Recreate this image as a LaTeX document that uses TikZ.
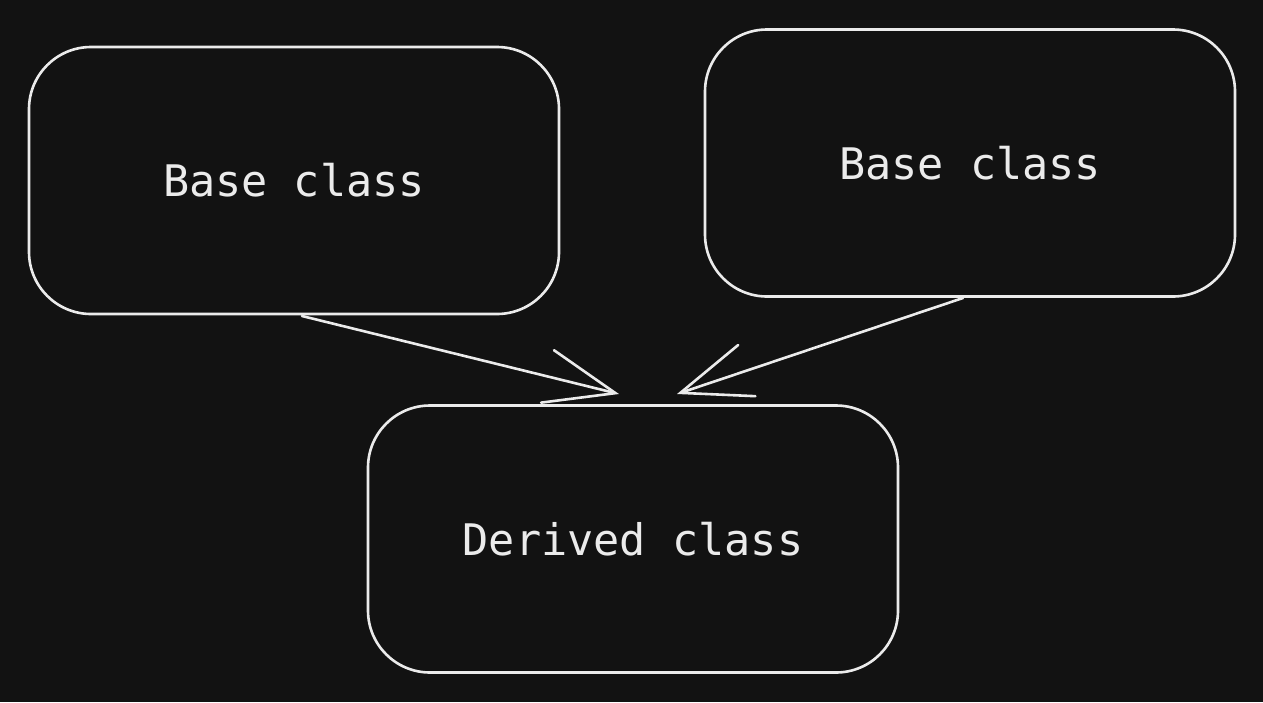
\documentclass[tikz,border=0pt]{standalone}
\usepackage{fontspec}
\setmonofont{DejaVu Sans Mono}
\usetikzlibrary{arrows.meta}
\definecolor{bg}{HTML}{121212}
\definecolor{ink}{HTML}{EBEBEB}
\begin{document}
\begin{tikzpicture}[x=1pt,y=-1pt,
  classbox/.style={draw=ink, line width=2.6pt, rounded corners=62pt,
    minimum width=530pt, minimum height=267pt, inner sep=0pt,
    text=ink, font=\fontsize{43.5}{50}\selectfont\ttfamily},
  inherit/.style={draw=ink, line width=2.6pt, line cap=round,
    -{Straight Barb[length=70pt,width=54pt,line cap=round]}}]
  \fill[bg] (0,0) rectangle (1263,702);
  \useasboundingbox (0,0) rectangle (1263,702);

  \node[classbox] (baseA) at (294,180.5) {Base class};
  \node[classbox] (baseB) at (970,163) {Base class};
  \node[classbox] (derived) at (633,539) {Derived class};

  % arrow tips stop just above the derived box
  \coordinate (tipA) at (619,394);
  \coordinate (tipB) at (677,394);
  \coordinate (startA) at (302,316);
  \coordinate (startB) at (963,298);

  \draw[inherit] (startA) -- (tipA);
  \draw[inherit] (startB) -- (tipB);
\end{tikzpicture}
\end{document}
